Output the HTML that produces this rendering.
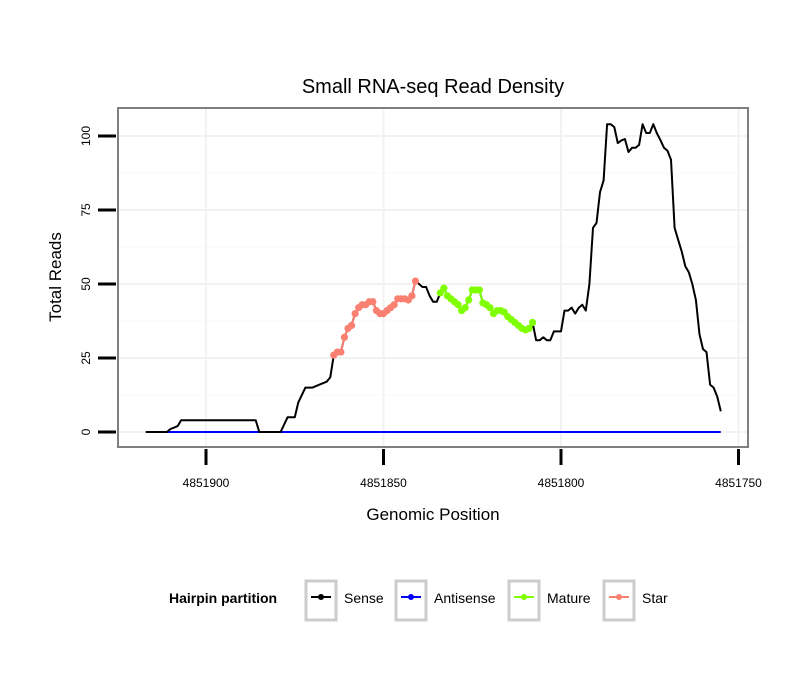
<!DOCTYPE html>
<html><head><meta charset="utf-8"><style>
body{margin:0;background:#fff;}
svg{display:block;font-family:"Liberation Sans",sans-serif;}
</style></head><body>
<svg id="chart" width="810" height="690">
<text x="433" y="93" text-anchor="middle" font-size="20">Small RNA-seq Read Density</text>
<rect x="118" y="108" width="630" height="339" fill="#fff" stroke="#7f7f7f" stroke-width="2"/>
<g id="grid"></g>
<g id="series"></g>
<g id="axes"></g>
<text x="433" y="520" text-anchor="middle" font-size="17">Genomic Position</text>
<text transform="translate(61,277) rotate(-90)" text-anchor="middle" font-size="17">Total Reads</text>
<g>
<text x="169" y="603" font-size="14" font-weight="bold">Hairpin partition</text>
<g>
<rect x="306" y="581" width="30" height="39" fill="#fff" stroke="#cccccc" stroke-width="3"/>
<line x1="311" y1="597" x2="331" y2="597" stroke="#000" stroke-width="2"/><circle cx="321" cy="597" r="3" fill="#000"/>
<text x="344" y="603" font-size="14">Sense</text></g>
<g>
<rect x="396" y="581" width="30" height="39" fill="#fff" stroke="#cccccc" stroke-width="3"/>
<line x1="401" y1="597" x2="421" y2="597" stroke="#0000ff" stroke-width="2"/><circle cx="411" cy="597" r="3" fill="#0000ff"/>
<text x="434" y="603" font-size="14">Antisense</text></g>
<g>
<rect x="509" y="581" width="30" height="39" fill="#fff" stroke="#cccccc" stroke-width="3"/>
<line x1="514" y1="597" x2="534" y2="597" stroke="#7fff00" stroke-width="2"/><circle cx="524" cy="597" r="3" fill="#7fff00"/>
<text x="547" y="603" font-size="14">Mature</text></g>
<g>
<rect x="604" y="581" width="30" height="39" fill="#fff" stroke="#cccccc" stroke-width="3"/>
<line x1="609" y1="597" x2="629" y2="597" stroke="#fa8072" stroke-width="2"/><circle cx="619" cy="597" r="3" fill="#fa8072"/>
<text x="642" y="603" font-size="14">Star</text></g>
</g>
</svg>
<script>
const sensePositions = [4851917,4851911,4851910,4851909,4851908,4851907,4851886,4851885,4851879,4851877,4851875,4851874,4851872,4851870,4851868,4851866,4851865,
4851864,4851863,4851862,4851861,4851860,4851859,4851858,4851857,4851856,4851855,4851854,4851853,4851852,4851851,4851850,4851849,4851848,4851847,4851846,4851845,4851844,4851843,4851842,4851841,
4851840,4851839,4851838,4851837,4851836,4851835,
4851834,4851833,4851832,4851831,4851830,4851829,4851828,4851827,4851826,4851825,4851824,4851823,4851822,4851821,4851820,4851819,4851818,4851817,4851816,4851815,4851814,4851813,4851812,4851811,4851810,4851809,4851808,
4851807,4851806,4851805,4851804,4851803,4851802,4851801,4851800,4851799,4851798,4851797,4851796,4851795,4851794,4851793,4851792,4851791,4851790,4851789,4851788,4851787,4851786,4851785,4851784,4851783,4851782,4851781,4851780,4851779,4851778,4851777,4851776,4851775,4851774,4851773,4851772,4851771,4851770,4851769,4851768,4851767,4851766,4851765,4851764,4851763,4851762,4851761,4851760,4851759,4851758,4851757,4851756,4851755];
const senseReads = [0,0,1,1.5,2,4,4,0,0,5,5,10,15,15,16,17,18.5,
26,27,27,32,35,36,40,42,43,43,44,44,41,40,40,41,42,43,45,45,45,44.6,46,51,
50,49,49,46,44,44,
47,48.6,46,45,44,43,41,42,44.6,48,48,48,43.6,43,42,40,41,41,40.5,39,38,37,36,35,34.5,35,37,
31,31,32,31,31,34,34,34,41,41,42,40,42,43,41,50,69,70.6,81,85,104,104,103,97.6,98.5,99,94.6,96,96,97,104,101,101,104,101,98.6,96,95,92,69,65,61,56,54,50,44.6,33,28,27,16,15,12,7];
const starRange = [4851864, 4851841];
const matureRange = [4851834, 4851808];
const antisenseRange = [4851913, 4851755];
const antisenseReads = [0, 0];
const xTicks = [4851900, 4851850, 4851800, 4851750];
const yTicks = [0, 25, 50, 75, 100];

const NS='http://www.w3.org/2000/svg';
const xs = p => 206 + (4851900 - p) * 3.55;
const ys = v => 432 - v * 2.96;
function mk(t, a, parent){const e=document.createElementNS(NS,t);for(const k in a)e.setAttribute(k,a[k]);parent.appendChild(e);return e;}
const grid=document.getElementById('grid'), series=document.getElementById('series'), axes=document.getElementById('axes');
yTicks.forEach(v=>{const l=mk('line',{x1:119,x2:747,y1:ys(v),y2:ys(v),stroke:'#f2f2f2','stroke-width':2},grid);

});
for(let i=0;i<yTicks.length-1;i++){const v=(yTicks[i]+yTicks[i+1])/2;const l=mk('line',{x1:119,x2:747,y1:ys(v),y2:ys(v),stroke:'#f8f8f8','stroke-width':1},grid);

}
xTicks.forEach(p=>{const l=mk('line',{x1:xs(p),x2:xs(p),y1:109,y2:446,stroke:'#f2f2f2','stroke-width':2},grid);

});
yTicks.forEach(v=>{const t=mk('line',{x1:98,x2:116,y1:ys(v),y2:ys(v),stroke:'#000','stroke-width':3},axes);


const tx=mk('text',{transform:`translate(90,${ys(v)}) rotate(-90)`,'text-anchor':'middle','font-size':12},axes);tx.textContent=v;

});
xTicks.forEach(p=>{const t=mk('line',{x1:xs(p),x2:xs(p),y1:449,y2:465,stroke:'#000','stroke-width':3},axes);


const tx=mk('text',{x:xs(p),y:487,'text-anchor':'middle','font-size':12},axes);tx.textContent=p;

});
const a=mk('line',{x1:xs(antisenseRange[0]),x2:xs(antisenseRange[1]),y1:ys(antisenseReads[0]),y2:ys(antisenseReads[1]),stroke:'#0000ff','stroke-width':2},series);


const pts=senseReads.map((v,i)=>xs(sensePositions[i]).toFixed(1)+','+ys(v).toFixed(1)).join(' ');
const s=mk('polyline',{points:pts,fill:'none',stroke:'#000','stroke-width':2,'stroke-linejoin':'round'},series);


function seg(range,color,name){
  const idx=[];sensePositions.forEach((p,i)=>{if(p<=range[0]&&p>=range[1])idx.push(i);});
  const pl=mk('polyline',{points:idx.map(i=>xs(sensePositions[i])+','+ys(senseReads[i])).join(' '),fill:'none',stroke:color,'stroke-width':2},series);
  
  
  idx.forEach(i=>{const c=mk('circle',{cx:xs(sensePositions[i]),cy:ys(senseReads[i]),r:3.6,fill:color},series);
  
  });
}
seg(starRange,'#fa8072','star');
seg(matureRange,'#7fff00','mature');
</script>
</body></html>
